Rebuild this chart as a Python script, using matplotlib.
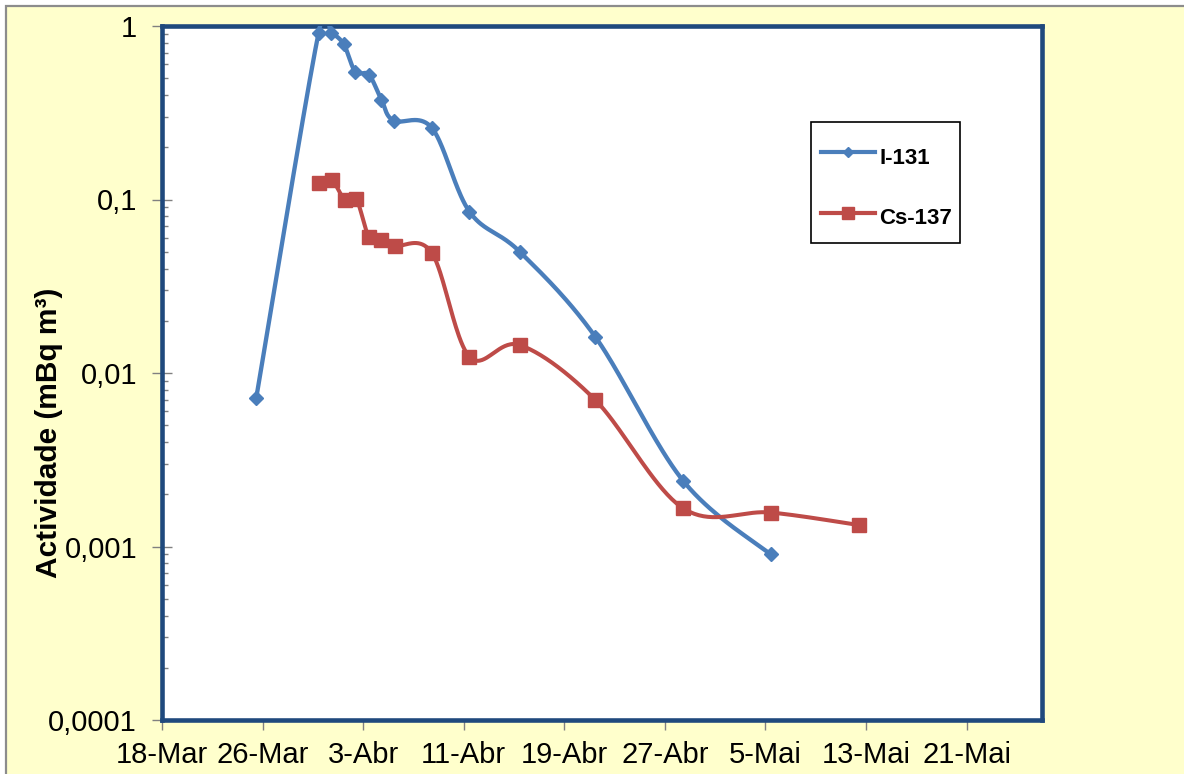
import numpy as np
import matplotlib
matplotlib.use('Agg')
import matplotlib.pyplot as plt
import matplotlib.dates as mdates
from matplotlib.patches import Rectangle
from matplotlib.lines import Line2D
from matplotlib.ticker import FixedLocator, FuncFormatter, LogLocator, NullFormatter
import datetime as dt

# ---------------- data ----------------
i131_dates = ['2011-03-25 12:00', '2011-03-30 11:00', '2011-03-31 11:00', '2011-04-01 11:00',
              '2011-04-02 09:00', '2011-04-03 11:00', '2011-04-04 11:00', '2011-04-05 10:00',
              '2011-04-08 11:00', '2011-04-11 11:00', '2011-04-15 11:00', '2011-04-21 11:00',
              '2011-04-28 11:00', '2011-05-05 10:00']
i131_vals = [0.0072, 0.915, 0.908, 0.784, 0.545, 0.524, 0.375, 0.285, 0.259,
             0.0851, 0.050, 0.0162, 0.00239, 0.00090]

cs137_dates = ['2011-03-30 11:00', '2011-03-31 12:00', '2011-04-01 13:00', '2011-04-02 11:00',
               '2011-04-03 11:00', '2011-04-04 11:00', '2011-04-05 12:00', '2011-04-08 11:00',
               '2011-04-11 11:00', '2011-04-15 11:00', '2011-04-21 11:00', '2011-04-28 11:00',
               '2011-05-05 10:00', '2011-05-12 10:00']
cs137_vals = [0.124, 0.1296, 0.0993, 0.1003, 0.0610, 0.0584, 0.0540, 0.0493,
              0.0124, 0.0145, 0.0070, 0.00166, 0.00157, 0.00133]

series_labels = ['I-131', 'Cs-137']
x_tick_dates = ['2011-03-18', '2011-03-26', '2011-04-03', '2011-04-11', '2011-04-19',
                '2011-04-27', '2011-05-05', '2011-05-13', '2011-05-21']
month_names = {3: 'Mar', 4: 'Abr', 5: 'Mai'}
y_ticks = [1, 0.1, 0.01, 0.001, 0.0001]
y_tick_labels = ['1', '0,1', '0,01', '0,001', '0,0001']
x_limits = ['2011-03-18', '2011-05-27']
y_label = 'Actividade (mBq m³)'

# ---------------- styling ----------------
BLUE = '#4A7EBB'
RED = '#BE4B48'
FRAME = '#1F497D'
TICKC = '#808080'
BG = '#FFFFCC'

plt.rcParams['font.family'] = ['Liberation Sans', 'DejaVu Sans']


def to_num(strs):
    return mdates.date2num([dt.datetime.fromisoformat(s) for s in strs])


def smooth(xs, ys, n=40):
    P = np.column_stack([xs, ys])
    out = []
    for i in range(len(P) - 1):
        p0 = P[i - 1] if i > 0 else P[i]
        p1 = P[i]
        p2 = P[i + 1]
        p3 = P[i + 2] if i + 2 < len(P) else P[i + 1]
        c1 = p1 + (p2 - p0) / 6.0
        c2 = p2 - (p3 - p1) / 6.0
        t = np.linspace(0, 1, n)[:, None]
        seg = (1 - t) ** 3 * p1 + 3 * (1 - t) ** 2 * t * c1 + 3 * (1 - t) * t ** 2 * c2 + t ** 3 * p2
        out.append(seg if i == 0 else seg[1:])
    return np.vstack(out)


fig = plt.figure(figsize=(11.84, 7.74), dpi=100, facecolor='white')
fig.patches.append(Rectangle((6 / 1184, -0.1), 1.2, 1 - 6 / 774 + 0.1, transform=fig.transFigure,
                             facecolor=BG, edgecolor='#8C8C8C', lw=1.6, zorder=-10))

ax = fig.add_axes([162 / 1184, (774 - 720) / 774, 880 / 1184, 694 / 774])
ax.set_facecolor('white')
ax.set_yscale('log')

xi = to_num(i131_dates)
xc = to_num(cs137_dates)

si = smooth(xi, np.log10(i131_vals))
sc = smooth(xc, np.log10(cs137_vals))

ax.plot(si[:, 0], 10 ** si[:, 1], color=BLUE, lw=3.1, solid_capstyle='round', zorder=3)
ax.plot(xi, i131_vals, linestyle='none', marker='D', ms=7.5, color=BLUE, mec=BLUE, zorder=4)
ax.plot(sc[:, 0], 10 ** sc[:, 1], color=RED, lw=2.9, solid_capstyle='round', zorder=3)
ax.plot(xc, cs137_vals, linestyle='none', marker='s', ms=9.5, color=RED, mec=RED, zorder=4)

ax.set_xlim(to_num(x_limits))
ax.set_ylim(min(y_ticks), max(y_ticks))

ax.xaxis.set_major_locator(FixedLocator(to_num(x_tick_dates)))
ax.xaxis.set_major_formatter(FuncFormatter(
    lambda v, p: f"{mdates.num2date(v).day}-{month_names[mdates.num2date(v).month]}"))
ax.yaxis.set_major_locator(FixedLocator(y_ticks))
ax.yaxis.set_major_formatter(FuncFormatter(
    lambda v, p: y_tick_labels[int(np.argmin([abs(np.log10(v) - np.log10(t)) for t in y_ticks]))]))
ax.yaxis.set_minor_locator(LogLocator(base=10, subs=np.arange(2, 10)))
ax.yaxis.set_minor_formatter(NullFormatter())

ax.tick_params(axis='x', which='major', direction='out', length=7, width=1, color=TICKC,
               labelsize=21, pad=8, labelcolor='black')
ax.tick_params(axis='y', which='major', direction='inout', length=14, width=1, color=TICKC,
               labelsize=21, pad=11, labelcolor='black')
ax.tick_params(axis='y', which='minor', direction='in', length=4, width=1, color=TICKC)

for s in ax.spines.values():
    s.set_color(FRAME)
    s.set_linewidth(3.3)

ax.set_ylabel(y_label, fontsize=21.5, fontweight='bold')
ax.yaxis.set_label_coords(-0.113, 0.414)

# legend box (frame drawn separately to match the reference's padding)
ax.add_patch(Rectangle((0.7375, 0.687), 0.9068 - 0.7375, 0.861 - 0.687, transform=ax.transAxes,
                       facecolor='white', edgecolor='black', lw=1.2, zorder=5))
handles = [Line2D([], [], color=BLUE, lw=3, marker='D', ms=5.5),
           Line2D([], [], color=RED, lw=3, marker='s', ms=8)]
leg = ax.legend(handles, series_labels, loc='upper left', bbox_to_anchor=(0.7375, 0.849),
                frameon=False, prop={'size': 16, 'weight': 'bold'}, handlelength=2.45,
                handletextpad=0.18, handleheight=1.8, labelspacing=1.32, borderpad=0.45,
                borderaxespad=0)
leg.set_zorder(6)

fig.savefig('out.png', dpi=100, facecolor=fig.get_facecolor())
